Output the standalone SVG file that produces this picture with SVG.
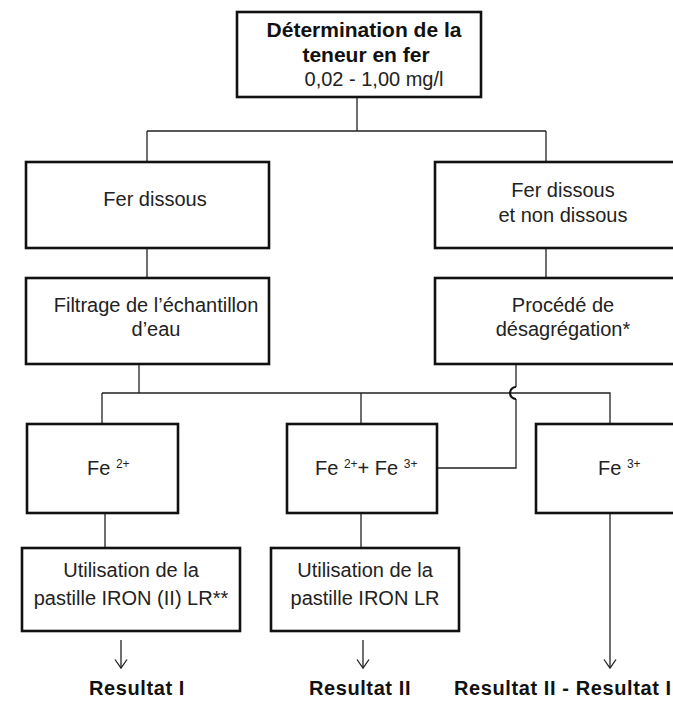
<svg xmlns="http://www.w3.org/2000/svg" width="673" height="702" viewBox="0 0 673 702">
<defs>
<marker id="ah" markerWidth="11" markerHeight="14" refX="9.5" refY="7" orient="auto" markerUnits="userSpaceOnUse" viewBox="0 0 11 14">
<path d="M1,1 L9.5,7 L1,13" fill="none" stroke="#222" stroke-width="1.3"/>
</marker>
<style>
.box{fill:#fff;stroke:#111;stroke-width:2.6}
.conn{fill:none;stroke:#222;stroke-width:1.3}
.hop{fill:none;stroke:#111;stroke-width:2.2}
.t{font-family:"Liberation Sans",Arial,sans-serif;font-size:20px;fill:#222;text-anchor:middle}
.ts{font-family:"Liberation Sans",Arial,sans-serif;font-size:20px;fill:#222}
.sup{font-size:12px}
.b{font-family:"Liberation Sans",Arial,sans-serif;font-weight:bold;fill:#111}
.res{font-size:20px;letter-spacing:0.6px}
</style>
</defs>
<rect width="673" height="702" fill="#fff"/>
<g id="connectors">
<path class="conn" d="M357,97 V131 M147,131 H546 M147,131 V162 M546,131 V162"/>
<path class="conn" d="M147,248 V278 M546,248 V278"/>
<path class="conn" d="M139,364 V393 M102,393 H610 V424 M102,393 V424 M361,393 V424"/>
<path class="conn" d="M516,364 V387 M516,399 V468 H437"/>
<path class="hop" d="M516,387 A6,6 0 0 0 516,399"/>
<path class="conn" d="M105,513 V548 M361,513 V548"/>
<path class="conn" d="M121,640 V668" marker-end="url(#ah)"/>
<path class="conn" d="M363,640 V668" marker-end="url(#ah)"/>
<path class="conn" d="M610,513 V668" marker-end="url(#ah)"/>
</g>
<g id="n_top">
<rect class="box" x="237" y="12" width="244" height="85" stroke-width="3"/>
<text class="b" x="364" y="37" font-size="21" text-anchor="middle">Détermination de la</text>
<text class="b" x="366" y="62" font-size="21" text-anchor="middle">teneur en fer</text>
<text class="t" x="374" y="86" font-size="19">0,02 - 1,00 mg/l</text>
</g>
<g id="n_fer_dissous">
<rect class="box" x="26" y="162" width="243" height="86"/>
<text class="t" x="155" y="206">Fer dissous</text>
</g>
<g id="n_fer_non_dissous">
<rect class="box" x="435" y="162" width="252" height="86"/>
<text class="t" x="563" y="197">Fer dissous</text>
<text class="t" x="563" y="222">et non dissous</text>
</g>
<g id="n_filtrage">
<rect class="box" x="26" y="278" width="243" height="86"/>
<text class="t" x="156" y="312">Filtrage de l’échantillon</text>
<text class="t" x="156" y="336">d’eau</text>
</g>
<g id="n_procede">
<rect class="box" x="435" y="278" width="252" height="86"/>
<text class="t" x="563" y="312">Procédé de</text>
<text class="t" x="563" y="336">désagrégation*</text>
</g>
<g id="n_fe2">
<rect class="box" x="27" y="424" width="151" height="89"/>
<text class="ts" x="87" y="475">Fe <tspan class="sup" dy="-7">2+</tspan></text>
</g>
<g id="n_fe23">
<rect class="box" x="287" y="424" width="150" height="89"/>
<text class="ts" x="315" y="475">Fe <tspan class="sup" dy="-7">2+</tspan><tspan dy="7">+ Fe </tspan><tspan class="sup" dy="-7">3+</tspan></text>
</g>
<g id="n_fe3">
<rect class="box" x="536" y="424" width="152" height="89"/>
<text class="ts" x="598" y="475">Fe <tspan class="sup" dy="-7">3+</tspan></text>
</g>
<g id="n_util1">
<rect class="box" x="22" y="548" width="218" height="83"/>
<text class="t" x="131" y="577">Utilisation de la</text>
<text class="t" x="131" y="605">pastille IRON (II) LR**</text>
</g>
<g id="n_util2">
<rect class="box" x="271" y="548" width="188" height="83"/>
<text class="t" x="365" y="577">Utilisation de la</text>
<text class="t" x="365" y="605">pastille IRON LR</text>
</g>
<g id="results">
<text class="b res" x="137" y="695" text-anchor="middle">Resultat I</text>
<text class="b res" x="360" y="695" text-anchor="middle">Resultat II</text>
<text class="b res" x="454" y="695">Resultat II - Resultat I</text>
</g>
</svg>
